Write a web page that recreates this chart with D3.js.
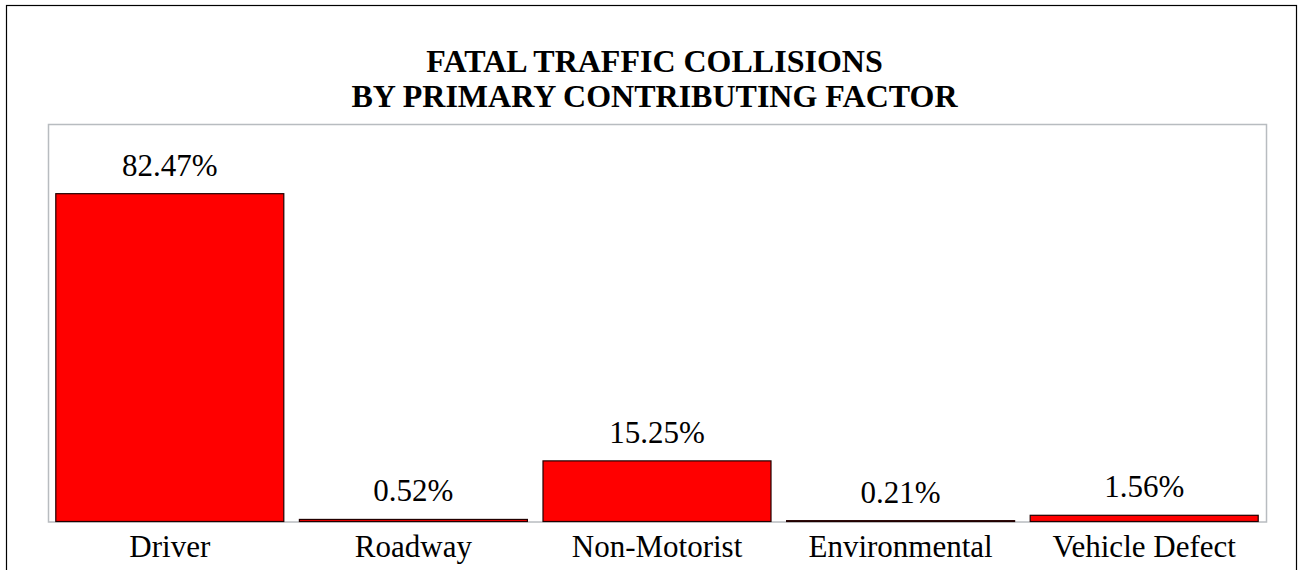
<!DOCTYPE html>
<html>
<head>
  <meta charset="utf-8">
  <style>
    html, body {
      margin: 0;
      overflow: hidden;
      background: #fff;
    }
    svg {
      display: block;
    }
    text {
      font-family: "Liberation Serif", "Times New Roman", serif;
      fill: #000;
    }
    .title {
      font-weight: bold;
      font-size: 32px;
    }
    .value, .cat {
      font-size: 31px;
    }
  </style>
  <script src="https://d3js.org/d3.v7.min.js"></script>
</head>
<body>
  <svg id="svg" width="1301" height="570"></svg>
  <script>
    var categories = ["Driver", "Roadway", "Non-Motorist", "Environmental", "Vehicle Defect"];
    var values = [82.47, 0.52, 15.25, 0.21, 1.56];
    var titleLines = ["FATAL TRAFFIC COLLISIONS", "BY PRIMARY CONTRIBUTING FACTOR"];

    var W = 1301, H = 570;
    var margin = {top: 124, right: 35, bottom: 48, left: 48};
    var width = W - margin.left - margin.right;
    var height = H - margin.top - margin.bottom - 0.5;

    var svg = d3.select("svg");

    // outer frame
    svg.append("rect")
      .attr("x", 6.5)
      .attr("y", 5.5)
      .attr("width", 1290)
      .attr("height", 600)
      .attr("fill", "none")
      .attr("stroke", "#000")
      .attr("stroke-width", 1.2);

    svg.selectAll(".title").data(titleLines)
      .enter().append("text")
      .attr("class", "title")
      .attr("x", W / 2 + 4)
      .attr("y", function(d, i) { return 72 + i * 35; })
      .attr("text-anchor", "middle")
      .text(function(d) { return d; });

    var x = d3.scaleBand()
      .domain(categories)
      .range([0, width])
      .paddingInner(0.064)
      .paddingOuter(0.032);

    var y = d3.scaleLinear()
      .domain([0, 100])
      .range([height, 0]);

    var g = svg.append("g")
      .attr("transform", "translate(" + margin.left + "," + margin.top + ")");

    // plot area border
    g.append("rect")
      .attr("x", 0.5)
      .attr("y", 0.5)
      .attr("width", width)
      .attr("height", height)
      .attr("fill", "none")
      .attr("stroke", "#b8bcc0")
      .attr("stroke-width", 1.5);

    var data = categories.map(function(c, i) { return {cat: c, val: values[i]}; });

    g.selectAll(".bar").data(data)
      .enter().append("rect")
      .attr("class", "bar")
      .attr("x", function(d) { return x(d.cat); })
      .attr("y", function(d) { return y(d.val); })
      .attr("width", x.bandwidth())
      .attr("height", function(d) { return height - y(d.val); })
      .attr("fill", "#ff0000")
      .attr("stroke", "#200000")
      .attr("stroke-width", 1.2);

    g.selectAll(".value").data(data)
      .enter().append("text")
      .attr("class", "value")
      .attr("x", function(d) { return x(d.cat) + x.bandwidth() / 2; })
      .attr("y", function(d) { return y(d.val) - 18; })
      .attr("text-anchor", "middle")
      .text(function(d) { return d.val.toFixed(2) + "%"; });

    var xAxis = d3.axisBottom(x).tickSize(0).tickPadding(0);
    var xObj = g.append("g")
      .attr("transform", "translate(0," + height + ")")
      .call(xAxis);
    xObj.select(".domain").remove();
    xObj.selectAll("text")
      .attr("class", "cat")
      .attr("dy", null)
      .attr("y", 35);
    xObj.attr("font-family", null).attr("font-size", null);
  </script>
</body>
</html>
